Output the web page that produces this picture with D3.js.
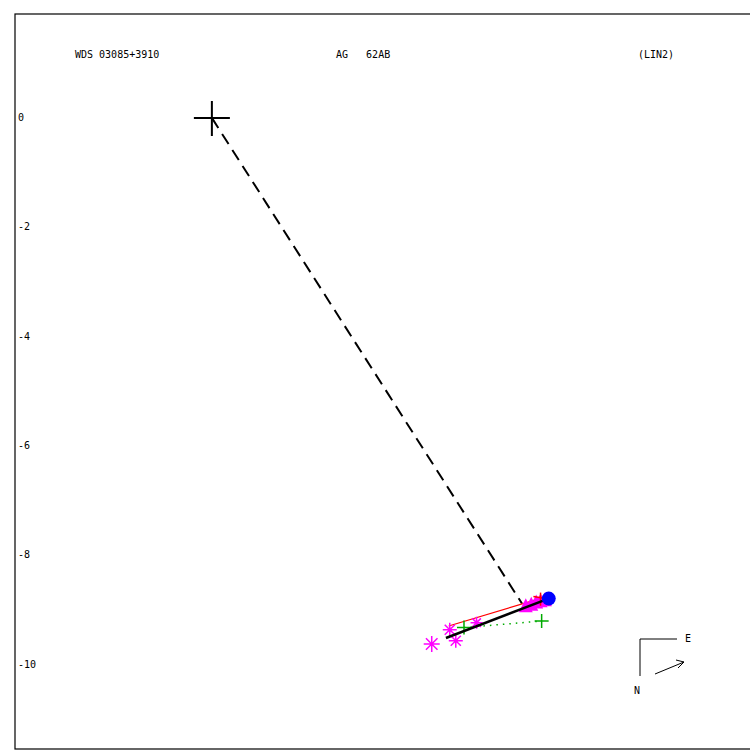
<!DOCTYPE html>
<html lang="en">
<head>
  <meta charset="UTF-8" />
  <title>WDS 03085+3910 AG 62AB</title>
  <script src="https://d3js.org/d3.v7.min.js"></script>
  <style>
    body { margin: 0; background: #fff; }
    svg text { font-family: "DejaVu Sans Mono", monospace; font-size: 10px; fill: #000; }
  </style>
</head>
<body>
  <svg id="plot" width="750" height="750"></svg>
  <script>
    // header labels
    const titles = ["WDS 03085+3910", "AG   62AB", "(LIN2)"];
    const yTicks = [0, -2, -4, -6, -8, -10];

    // positions in arcsec (x east offset, y north offset)
    const primary = [0, 0];
    const fitLine = [[4.28, -9.51], [6.18, -8.78]];
    const dashedLine = [[0, 0], [5.67, -8.88]];
    const redLine = [[4.33, -9.29], [6.03, -8.78]];
    const greenDotted = [[4.61, -9.32], [6.03, -9.20]];
    const greenPlus = [[4.61, -9.32], [6.03, -9.20]];
    const stars = [[4.02, -9.62, 8], [4.35, -9.36, 7], [4.46, -9.56, 7], [4.84, -9.23, 6]];
    const triangles = [[5.74, -8.93], [5.84, -8.90], [5.93, -8.86], [6.01, -8.84], [6.09, -8.82]];
    const redTicks = [[[6.01, -8.68], [6.01, -8.92]], [[5.88, -8.75], [6.10, -8.79]]];
    const periastron = [6.16, -8.79];

    const svg = d3.select("#plot");
    const x = d3.scaleLinear().domain([-3.6, 9.84]).range([15, 750]);
    const y = d3.scaleLinear().domain([1.9, -11.54]).range([14, 749]);
    const line = d3.line().x(d => x(d[0])).y(d => y(d[1]));

    svg.append("rect").attr("x", 15).attr("y", 14).attr("width", 740).attr("height", 735)
      .attr("fill", "none").attr("stroke", "#000").attr("stroke-width", 1.2);

    svg.append("text").attr("x", 75).attr("y", 58).text(titles[0]);
    svg.append("text").attr("x", 336).attr("y", 58).attr("xml:space", "preserve").text(titles[1]);
    svg.append("text").attr("x", 638).attr("y", 58).text(titles[2]);

    svg.selectAll("text.tick").data(yTicks).enter().append("text")
      .attr("class", "tick").attr("x", 18).attr("y", d => y(d) + 3)
      .text(d => String(d));

    // primary cross
    const px = x(primary[0]), py = y(primary[1]);
    svg.append("path").attr("d", `M${px - 18},${py}H${px + 18}M${px},${py - 17}V${py + 18}`)
      .attr("stroke", "#000").attr("stroke-width", 2);

    svg.append("path").attr("d", line(dashedLine)).attr("stroke", "#000")
      .attr("stroke-width", 2).attr("stroke-dasharray", "12,7").attr("fill", "none");

    svg.append("path").attr("d", line(greenDotted)).attr("stroke", "#0a0")
      .attr("stroke-width", 1.5).attr("stroke-dasharray", "1.5,5").attr("fill", "none");

    svg.append("path").attr("d", line(redLine)).attr("stroke", "red")
      .attr("stroke-width", 1.2).attr("fill", "none");

    // magenta triangles
    svg.selectAll("path.tri").data(triangles).enter().append("path")
      .attr("class", "tri")
      .attr("d", d => { const cx = x(d[0]), cy = y(d[1]); return `M${cx - 7},${cy + 6}L${cx},${cy - 8}L${cx + 7},${cy + 6}Z`; })
      .attr("fill", "#f0f");

    redTicks.forEach(t => svg.append("path").attr("d", line(t)).attr("stroke", "red").attr("stroke-width", 1.5));

    // magenta asterisks
    stars.forEach(([sx, sy, r]) => {
      const cx = x(sx), cy = y(sy), d = r * 0.72;
      svg.append("path")
        .attr("d", `M${cx - r},${cy}H${cx + r}M${cx},${cy - r}V${cy + r}M${cx - d},${cy - d}L${cx + d},${cy + d}M${cx - d},${cy + d}L${cx + d},${cy - d}`)
        .attr("stroke", "#f0f").attr("stroke-width", 1.5);
    });

    // green plus marks
    greenPlus.forEach(([gx, gy]) => {
      const cx = x(gx), cy = y(gy);
      svg.append("path").attr("d", `M${cx - 7},${cy}H${cx + 7}M${cx},${cy - 7}V${cy + 7}`)
        .attr("stroke", "#0a0").attr("stroke-width", 1.5);
    });

    // linear fit
    svg.append("path").attr("d", line(fitLine)).attr("stroke", "#000")
      .attr("stroke-width", 2.5).attr("fill", "none");

    svg.append("circle").attr("cx", x(periastron[0])).attr("cy", y(periastron[1])).attr("r", 7).attr("fill", "#00f");

    // compass
    const g = svg.append("g");
    g.append("path").attr("d", "M640,676V639H677").attr("stroke", "#000").attr("fill", "none");
    g.append("text").attr("x", 685).attr("y", 642).text("E");
    g.append("text").attr("x", 634).attr("y", 694).text("N");
    g.append("path").attr("d", "M655,674L684,662M684,662L676,660M684,662L678,668")
      .attr("stroke", "#000").attr("fill", "none");
  </script>
</body>
</html>
